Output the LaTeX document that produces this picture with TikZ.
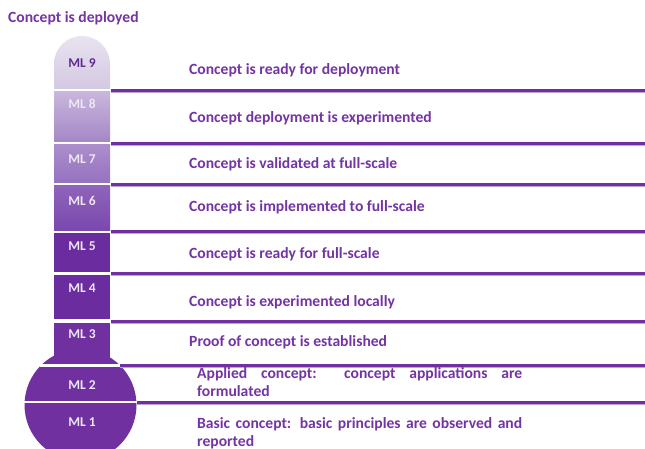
\documentclass[tikz,border=0pt]{standalone}
\usepackage{fontspec}
\setmainfont{Carlito}
\begin{document}
\definecolor{vio}{HTML}{7030A0}
\definecolor{viodeep}{HTML}{6A2C9E}
\definecolor{viotxt}{HTML}{7434A4}
\definecolor{violite}{HTML}{BCA6D6}
\definecolor{mltxt}{HTML}{EEE6F5}
\definecolor{capdark}{HTML}{5E2D91}
\begin{tikzpicture}[x=1pt,y=-1pt,
  level/.style={font=\bfseries\fontsize{13.5}{15}\selectfont,text=mltxt},
  desc/.style={font=\bfseries\fontsize{15.6}{18}\selectfont,text=viotxt,anchor=west,inner sep=0pt},
  rule/.style={draw=vio,line width=3pt},
  ruleshade/.style={draw=violite,line width=1pt}]
\useasboundingbox (0,0) rectangle (645,449);
\fill[white] (0,0) rectangle (645,449);

% title
\node[desc] (title) at (8,18) {Concept is deployed};

% thermometer tube segments, lightest at the top (y axis points down here)
\shade[top color={rgb,255:red,233;green,227;blue,240}, bottom color={rgb,255:red,212;green,200;blue,226}]
  (54,89) -- (54,64) arc[start angle=180,end angle=360,radius=28] -- (110,89) -- cycle;
\shade[top color={rgb,255:red,201;green,182;blue,221}, bottom color={rgb,255:red,164;green,135;blue,198}] (54,92) rectangle (110,142);
\shade[top color={rgb,255:red,171;green,141;blue,203}, bottom color={rgb,255:red,150;green,114;blue,192}] (54,145) rectangle (110,183);
\shade[top color={rgb,255:red,143;green,100;blue,186}, bottom color={rgb,255:red,122;green,72;blue,174}] (54,186) rectangle (110,230);
\fill[viodeep] (54,233) rectangle (110,272);
\fill[viodeep] (54,275) rectangle (110,319);
\fill[vio] (54,323) rectangle (110,370);

% bulb
\fill[vio] (80.5,405) circle[radius=56];
\draw[white,line width=2.2pt] (40,365.5) -- (121,365.5);
\draw[white,line width=2.2pt] (23,402) -- (138,402);

% level labels
\node[level,text=capdark] (ml9) at (82,63) {ML 9};
\node[level] (ml8) at (82,104) {ML 8};
\node[level] (ml7) at (82,159) {ML 7};
\node[level] (ml6) at (82,201) {ML 6};
\node[level] (ml5) at (82,246) {ML 5};
\node[level] (ml4) at (82,288) {ML 4};
\node[level] (ml3) at (82,334) {ML 3};
\node[level] (ml2) at (82,385) {ML 2};
\node[level] (ml1) at (82,422) {ML 1};

% separating rules
\foreach \y/\x in {90.5/111,143.5/111,184.5/111,231.5/111,273.5/111,321/111,365.5/120,402/137}{
  \draw[ruleshade] (\x,\y+2) -- (645,\y+2);
  \draw[rule] (\x,\y) -- (645,\y);
}

% descriptions
\node[desc] (d9) at (189,70) {Concept is ready for deployment};
\node[desc] (d8) at (189,118) {Concept deployment is experimented};
\node[desc] (d7) at (189,164) {Concept is validated at full-scale};
\node[desc] (d6) at (189,207) {Concept is implemented to full-scale};
\node[desc] (d5) at (189,254) {Concept is ready for full-scale};
\node[desc] (d4) at (189,302) {Concept is experimented locally};
\node[desc] (d3) at (189,342) {Proof of concept is established};
\node[desc,anchor=north west,text width=325pt,align=justify] (d2) at (197,367)
  {Applied concept:\ \ concept applications are\linebreak formulated};
\node[desc,anchor=north west,text width=325pt,align=justify] (d1) at (197,417)
  {Basic concept: basic principles are observed and\linebreak reported};
\end{tikzpicture}
\end{document}
